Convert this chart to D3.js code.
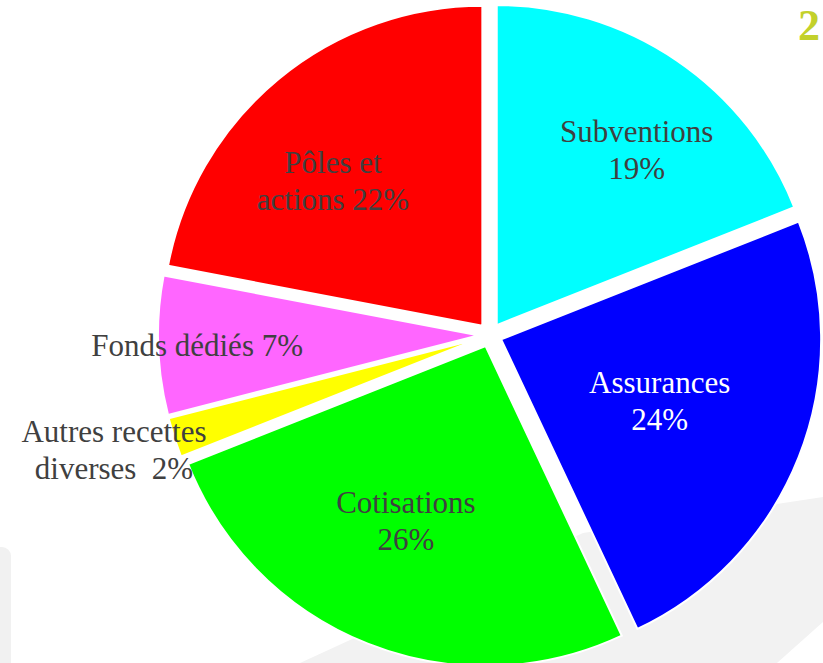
<!DOCTYPE html>
<meta charset="utf-8">
<html>
  <head>
    <script src="https://d3js.org/d3.v7.min.js"></script>
    <style>
      body { margin: 0; background: #fff; }
    </style>
  </head>
  <body>
    <div id="chart"></div>

    <script type="text/javascript">
      var width = 823,
          height = 663,
          cx = 490,
          cy = 335,
          radius = 320,
          explode = 12,
          labelR = 192;

      // chart data
      var categories = ["Subventions", "Assurances", "Cotisations", "Autres recettes diverses", "Fonds dédiés", "Pôles et actions"];
      var values = [19, 24, 26, 2, 7, 22];
      var labelTemplates = ["Subventions\n{p}", "Assurances\n{p}", "Cotisations\n{p}", "Autres recettes\ndiverses  {p}", "Fonds dédiés {p}", "Pôles et\nactions {p}"];

      // look
      var colors = ["#00ffff", "#0000ff", "#00ff00", "#ffff00", "#ff66ff", "#ff0000"];
      var textColors = ["#404040", "#ffffff", "#404040", "#404040", "#404040", "#404040"];
      var labelNudge = [[32, -16], [-20, -9], [-9, -4], [-182, 52], [-89, 4], [-27, 3]];

      var svg = d3.select("#chart").append("svg")
          .attr("width", width)
          .attr("height", height)
          .style("display", "block");

      // faint slide background shapes
      svg.append("path")
          .attr("d", "M823,497 L583,533 L300,663 L777,663 L823,622 Z")
          .style("fill", "#f2f2f2");
      svg.append("rect")
          .attr("x", -12).attr("y", 547)
          .attr("width", 23).attr("height", 140)
          .attr("rx", 9)
          .style("fill", "#f1f1f1");

      // title fragment at top right
      svg.append("text")
          .text("2")
          .attr("x", 798)
          .attr("y", 40)
          .style("font-family", "'Liberation Serif', serif")
          .style("font-weight", "bold")
          .style("font-size", "44px")
          .style("fill", "#c3d12b");

      var pie = d3.pie().sort(null).value(function(d) { return d; });
      var arcs = pie(values);

      var arc = d3.arc().innerRadius(0).outerRadius(radius);
      var labelArc = d3.arc().innerRadius(labelR).outerRadius(labelR);

      function shift(d) {
        var mid = (d.startAngle + d.endAngle) / 2;
        return [Math.sin(mid) * explode, -Math.cos(mid) * explode];
      }

      var g = svg.append("g")
          .attr("transform", "translate(" + cx + "," + cy + ")");

      var slices = g.selectAll(".slice")
          .data(arcs)
          .enter().append("g")
            .attr("class", "slice")
            .attr("transform", function(d) { var s = shift(d); return "translate(" + s[0] + "," + s[1] + ")"; });

      slices.append("path")
          .attr("d", arc)
          .style("fill", function(d, i) { return colors[i]; })
          .style("stroke", "#ffffff")
          .style("stroke-width", "2px");

      var labels = slices.append("text")
          .attr("transform", function(d, i) {
            var c = labelArc.centroid(d);
            return "translate(" + (c[0] + labelNudge[i][0]) + "," + (c[1] + labelNudge[i][1]) + ")";
          })
          .style("text-anchor", "middle")
          .style("font-family", "'Liberation Serif', 'Times New Roman', serif")
          .style("font-size", "31px")
          .style("white-space", "pre")
          .style("fill", function(d, i) { return textColors[i]; });

      labels.each(function(d, i) {
        var lines = labelTemplates[i].replace("{p}", values[i] + "%").split("\n");
        var lh = 37;
        var t = d3.select(this);
        lines.forEach(function(line, k) {
          t.append("tspan")
            .attr("x", 0)
            .attr("y", (k - (lines.length - 1) / 2) * lh)
            .attr("dominant-baseline", "central")
            .text(line);
        });
      });
    </script>
  </body>
</html>
